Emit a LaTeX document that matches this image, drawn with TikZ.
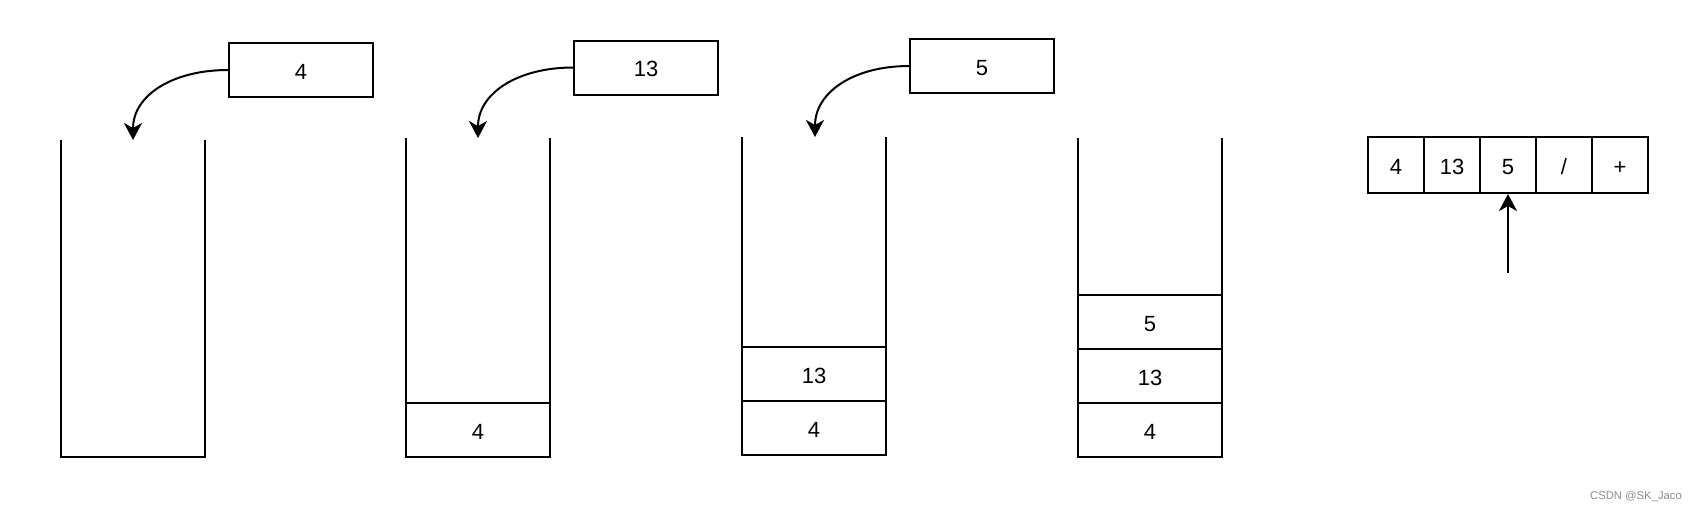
\documentclass[tikz,border=0pt]{standalone}
\usepackage{fontspec}
\setmainfont{Liberation Sans}
\usetikzlibrary{arrows.meta}
\tikzset{
  wall/.style={line width=2pt, line join=miter},
  cellbox/.style={draw, line width=2pt, rectangle, minimum width=144pt, minimum height=54pt, inner sep=0pt, text height=18.5pt, text depth=0pt, font=\fontsize{22}{24}\selectfont},
  srcbox/.style={cellbox},
  arrcell/.style={draw, line width=2pt, rectangle, minimum width=56pt, minimum height=56pt, inner sep=0pt, text height=18.5pt, text depth=0pt, font=\fontsize{22}{24}\selectfont},
  push/.style={line width=2pt, -{Stealth[length=17pt, width=18pt, inset=5pt]}}
}
\begin{document}
\begin{tikzpicture}[x=1pt,y=-1pt]
\useasboundingbox (0,0) rectangle (1700,512);
% stack 1
\coordinate (s1tl) at (61,140);
\coordinate (s1bl) at (61,457);
\coordinate (s1br) at (205,457);
\coordinate (s1tr) at (205,140);
\draw[wall] (s1tl) -- (s1bl) -- (s1br) -- (s1tr);
\node[srcbox] (b1) at (301,70) {4};
\coordinate (t1) at (133,140);
\draw[push] (b1.west) .. controls +(-55,0) and +(0,-45) .. (t1);
% stack 2
\coordinate (s2tl) at (406,138);
\coordinate (s2bl) at (406,457);
\coordinate (s2br) at (550,457);
\coordinate (s2tr) at (550,138);
\draw[wall] (s2tl) -- (s2bl) -- (s2br) -- (s2tr);
\node[cellbox] (c21) at (478,430) {4};
\node[srcbox] (b2) at (646,67.5) {13};
\coordinate (t2) at (478,138);
\draw[push] (b2.west) .. controls +(-55,0) and +(0,-45) .. (t2);
% stack 3
\coordinate (s3tl) at (742,137);
\coordinate (s3bl) at (742,455);
\coordinate (s3br) at (886,455);
\coordinate (s3tr) at (886,137);
\draw[wall] (s3tl) -- (s3bl) -- (s3br) -- (s3tr);
\node[cellbox] (c31) at (814,428) {4};
\node[cellbox] (c32) at (814,374) {13};
\node[srcbox] (b3) at (982,66) {5};
\coordinate (t3) at (815,137);
\draw[push] (b3.west) .. controls +(-55,0) and +(0,-45) .. (t3);
% stack 4
\coordinate (s4tl) at (1078,138);
\coordinate (s4bl) at (1078,457);
\coordinate (s4br) at (1222,457);
\coordinate (s4tr) at (1222,138);
\draw[wall] (s4tl) -- (s4bl) -- (s4br) -- (s4tr);
\node[cellbox] (c41) at (1150,430) {4};
\node[cellbox] (c42) at (1150,376) {13};
\node[cellbox] (c43) at (1150,322) {5};
% array
\node[arrcell] (a1) at (1396,165) {4};
\node[arrcell] (a2) at (1452,165) {13};
\node[arrcell] (a3) at (1508,165) {5};
\node[arrcell] (a4) at (1564,165) {/};
\node[arrcell] (a5) at (1620,165) {+};
\coordinate (p) at (1508,273);
\draw[push] (p) -- (a3.south);
% watermark
\node[text=black!45, font=\fontsize{11.3}{13}\selectfont, inner sep=0pt] (wm) at (1636,497) {CSDN @SK\_Jaco};
\end{tikzpicture}
\end{document}
